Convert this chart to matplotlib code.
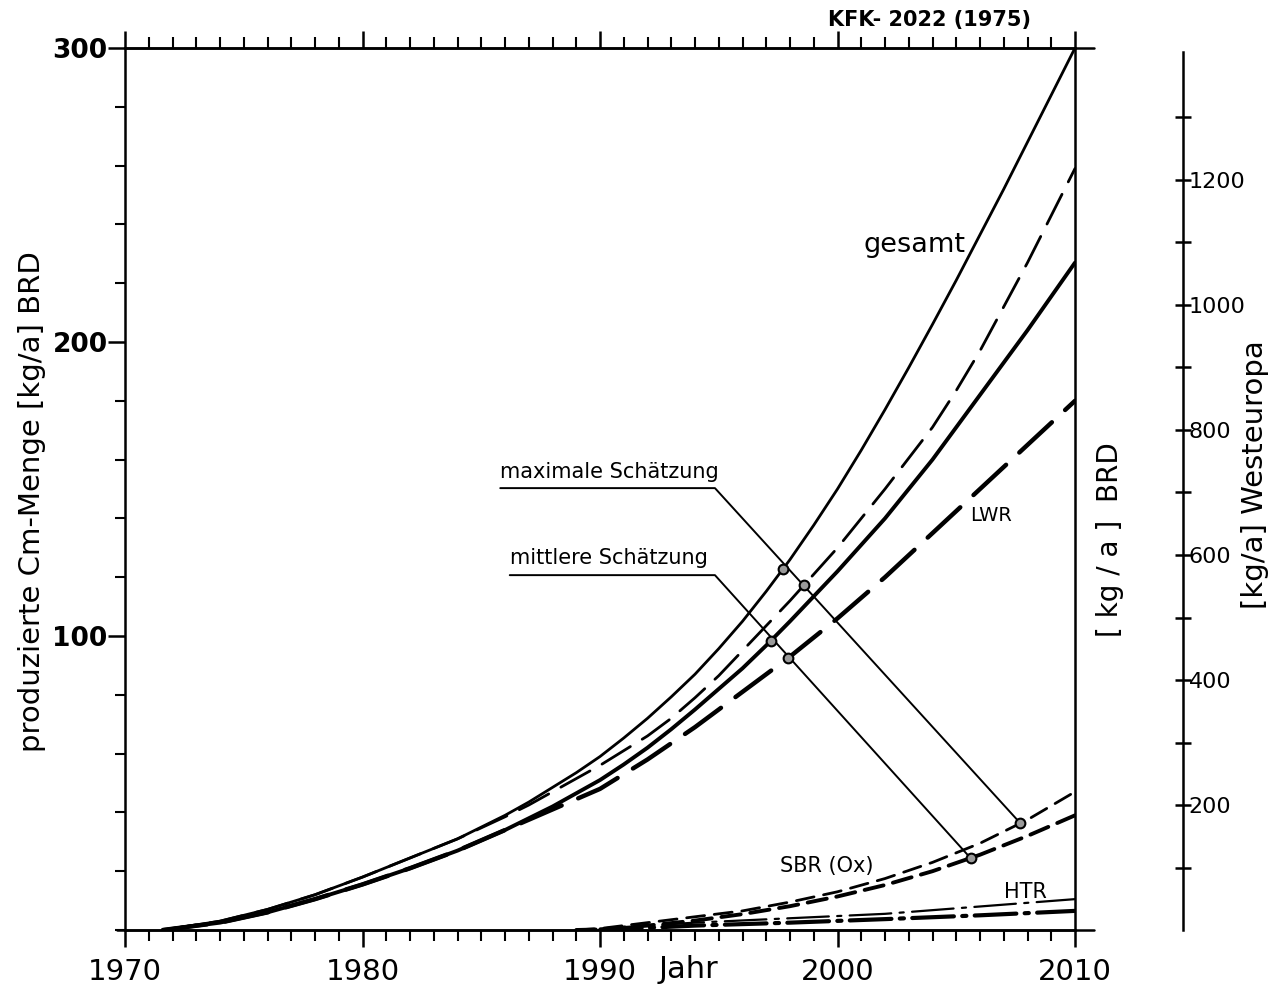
import numpy as np
import matplotlib.pyplot as plt

# Cm production forecast, BRD (kg/a)
years = [1971.6, 1974, 1976, 1978, 1980, 1982, 1984] + list(range(1986, 2011))
gesamt_max = [0, 3, 7, 12, 18, 24.5, 31,
              39, 43.5, 48.5, 53.5, 59, 65.3, 72, 79.3, 87, 95.7, 105, 115.2, 126,
              137.7, 150, 163.2, 177, 191.3, 206, 221, 236.5, 252, 268, 284, 300]
lwr_max = [0, 3, 7, 12, 18, 24.5, 31,
           38.5, 42.5, 47, 51.5, 56, 61, 66, 72, 79, 86.5, 95, 103.5, 112,
           121, 130, 140, 150, 160.5, 171, 183.5, 197, 212, 227, 243, 259]
gesamt_mittel = [0, 2.5, 6, 10.5, 15.5, 21, 27,
                 34, 38, 42, 46.5, 51, 56.3, 62, 68.3, 75, 82, 89, 96.8, 105,
                 113.5, 122, 131, 140, 150, 160, 171, 182, 193, 204, 215.5, 227]
lwr_mittel = [0, 2.5, 6, 10.5, 15.5, 21, 27,
              34, 37.5, 41, 44.5, 48, 53, 58, 63.5, 69, 75, 81, 87, 93,
              99.5, 106, 113, 120, 127.5, 135, 142.5, 150, 157.5, 165, 172.5, 180]

sbr_years = [1989, 1990, 1992, 1994, 1996, 1998, 2000, 2002, 2004, 2006, 2008, 2010]
sbr_max = [0, 0.5, 2.5, 4.5, 6.5, 9.5, 13, 17.5, 23, 29.5, 37.5, 47]
sbr_mittel = [0, 0.2, 1.5, 3.2, 5.4, 8.1, 11.4, 15.3, 20, 25.6, 32, 39]

htr_years = [1990, 1994, 1998, 2002, 2006, 2010]
htr_max = [0.5, 2.5, 4, 5.5, 8, 10.5]
htr_mittel = [0, 1.5, 2.5, 3.7, 5, 6.5]

# years where the estimate leader lines cross the curves
max_marks = [1997.7, 1998.6, 2007.7]
mittel_marks = [1997.2, 1997.9, 2005.6]

west_factor = 4.704   # Westeuropa / BRD scale ratio
west_ticks = [100, 200, 300, 400, 500, 600, 700, 800, 900, 1000, 1100, 1200, 1300]
west_labels = [200, 400, 600, 800, 1000, 1200]

plt.rcParams["font.family"] = ["DejaVu Sans"]
plt.rcParams["lines.scale_dashes"] = False
plt.rcParams["lines.solid_capstyle"] = "round"
plt.rcParams["lines.dash_capstyle"] = "round"

fig = plt.figure(figsize=(12.88, 9.94), dpi=100)
ax = fig.add_axes([125 / 1288, 64 / 994, 950 / 1288, 882 / 994])

ax.set_xlim(1970, 2010)
ax.set_ylim(0, 300)

lw = 2.0
ax.plot(years, gesamt_max, color="black", lw=lw)
ax.plot(years, lwr_max, color="black", lw=lw, dashes=(24, 10))
ax.plot(years, gesamt_mittel, color="black", lw=lw + 0.8)
ax.plot(years, lwr_mittel, color="black", lw=lw + 1.2, dashes=(32, 13))
ax.plot(sbr_years, sbr_max, color="black", lw=lw, dashes=(13, 7))
ax.plot(sbr_years, sbr_mittel, color="black", lw=lw + 0.8, dashes=(14, 7))
ax.plot(htr_years, htr_max, color="black", lw=lw - 0.4, dashes=(30, 6, 3, 6))
ax.plot(htr_years, htr_mittel, color="black", lw=lw + 1.0, dashes=(30, 6, 3, 6))

# leader lines for both estimates
max_pts = [np.interp(max_marks[0], years, gesamt_max),
           np.interp(max_marks[1], years, lwr_max),
           np.interp(max_marks[2], sbr_years, sbr_max)]
mit_pts = [np.interp(mittel_marks[0], years, gesamt_mittel),
           np.interp(mittel_marks[1], years, lwr_mittel),
           np.interp(mittel_marks[2], sbr_years, sbr_mittel)]

ax.plot([1985.8, 1994.84, max_marks[2]], [150.3, 150.3, max_pts[2]], color="black", lw=1.4)
ax.plot([1986.2, 1994.84, mittel_marks[2]], [120.7, 120.7, mit_pts[2]], color="black", lw=1.4)
ax.plot(max_marks, max_pts, "o", ms=7, mfc="#9a9a9a", mec="black", mew=1.5, ls="none")
ax.plot(mittel_marks, mit_pts, "o", ms=7, mfc="#9a9a9a", mec="black", mew=1.5, ls="none")

ax.text(1985.8, 152.5, "maximale Schätzung", fontsize=15, ha="left", va="bottom")
ax.text(1986.2, 123, "mittlere Schätzung", fontsize=15, ha="left", va="bottom")
ax.text(2001.1, 233, "gesamt", fontsize=19.5, ha="left", va="center")
ax.text(2005.6, 141, "LWR", fontsize=14, ha="left", va="center")
ax.text(1997.6, 21.8, "SBR (Ox)", fontsize=15, ha="left", va="center")
ax.text(2007.0, 12.8, "HTR", fontsize=15, ha="left", va="center")

# frame and ticks
for s in ax.spines.values():
    s.set_linewidth(1.8)
ax.set_xticks([1970, 1980, 1990, 2000, 2010])
ax.set_xticks(range(1970, 2011), minor=True)
ax.set_yticks([100, 200, 300])
ax.set_yticks(range(0, 301, 20), minor=True)
ax.set_yticklabels(["100", "200", "300"], fontweight="bold")
ax.tick_params(axis="x", which="major", direction="out", length=12, width=1.8,
               top=True, labelsize=21, pad=8)
ax.tick_params(axis="x", which="minor", direction="out", length=8, width=1.5, top=True)
ax.tick_params(axis="y", which="major", direction="out", length=12, width=1.8,
               labelsize=19, pad=0.5, right=True)
ax.tick_params(axis="y", which="minor", direction="out", length=7, width=1.5, right=True)

# extended top and bottom rules
ax.plot([-0.008, 1.02], [0, 0], transform=ax.transAxes, color="black", lw=1.8, clip_on=False)
ax.plot([0, 1.02], [1, 1], transform=ax.transAxes, color="black", lw=1.8, clip_on=False)

# Westeuropa scale
ax2 = ax.twinx()
ax2.set_ylim(0, 300 * west_factor)
for k in ["top", "bottom", "left"]:
    ax2.spines[k].set_visible(False)
ax2.spines["right"].set_position(("axes", (1183 - 125) / 950))
ax2.spines["right"].set_bounds(0, 1405)
ax2.spines["right"].set_linewidth(1.8)
ax2.set_yticks(west_ticks)
ax2.set_yticklabels([str(t) if t in west_labels else "" for t in west_ticks])
ax2.tick_params(axis="y", direction="inout", length=12, width=1.8, labelsize=16, pad=-2)
ax2.plot([1182 / 1288 - 0.006, 1183 / 1288 + 0.008], [64 / 994, 64 / 994],
         transform=fig.transFigure, color="black", lw=1.8)

fig.text(32 / 1288, 1 - 502 / 994, "produzierte Cm-Menge [kg/a] BRD", fontsize=21,
         rotation=90, ha="center", va="center")
fig.text(1110 / 1288, 1 - 540 / 994, "[ kg / a ]  BRD", fontsize=20, rotation=90,
         ha="center", va="center")
fig.text(1255 / 1288, 1 - 475 / 994, "[kg/a] Westeuropa", fontsize=21, rotation=90,
         ha="center", va="center")
fig.text(688 / 1288, 1 - 970 / 994, "Jahr", fontsize=22, ha="center", va="center")
fig.text(930 / 1288, 1 - 20 / 994, "KFK- 2022 (1975)", fontsize=15, fontweight="bold",
         ha="center", va="center")

fig.savefig("out.png", dpi=100)
